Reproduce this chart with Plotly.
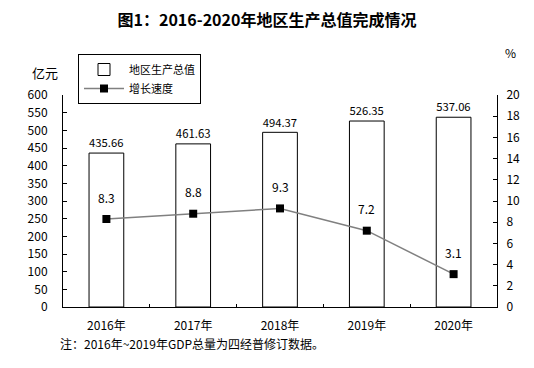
import plotly.graph_objects as go

years = ["2016年", "2017年", "2018年", "2019年", "2020年"]
gdp = [435.66, 461.63, 494.37, 526.35, 537.06]
growth = [8.3, 8.8, 9.3, 7.2, 3.1]

FONT = "Noto Sans CJK SC"

# page has 8px body margin; figure origin is at page (8, 8)
W, H = 526, 360
PL, PT, PR, PB = 55, 87, 489, 299  # plot area in figure pixels
PW, PH = PR - PL, PB - PT


def px(x):
    return (x - 8 - PL) / PW


def py(y):
    return (PB - (y - 8)) / PH


fig = go.Figure()
fig.add_trace(go.Bar(
    x=years, y=gdp, name="地区生产总值",
    marker=dict(color="white", line=dict(color="black", width=1)),
    text=[f"{v:.2f}" for v in gdp], textposition="outside",
    textfont=dict(size=12, color="black", family=FONT),
    cliponaxis=False,
))
fig.add_trace(go.Scatter(
    x=years, y=growth, name="增长速度", yaxis="y2",
    mode="lines+markers",
    line=dict(color="#808080", width=1.5),
    marker=dict(symbol="square", size=8, color="black"),
))
for xv, yv in zip(years, growth):
    fig.add_annotation(x=xv, y=yv, yref="y2", text=f"{yv}", showarrow=False,
                       yshift=22, yanchor="middle",
                       font=dict(size=12, color="black", family=FONT))

fig.add_annotation(xref="paper", yref="paper", x=px(45), y=py(73), text="亿元",
                   xanchor="center", yanchor="middle",
                   showarrow=False, font=dict(size=13, color="black", family=FONT))
fig.add_annotation(xref="paper", yref="paper", x=px(510), y=py(53), text="%",
                   xanchor="center", yanchor="middle",
                   showarrow=False, font=dict(size=12, color="black", family=FONT))
fig.add_annotation(xref="paper", yref="paper", x=px(58), y=py(343), xanchor="left",
                   yanchor="middle",
                   text="注：2016年~2019年GDP总量为四经普修订数据。", showarrow=False,
                   font=dict(size=12, color="black", family=FONT))

fig.update_layout(
    width=W, height=H,
    margin=dict(l=PL, r=W - PR, t=PT, b=H - PB, autoexpand=False),
    paper_bgcolor="white", plot_bgcolor="white",
    font=dict(family=FONT, size=12, color="black"),
    title=dict(text="<b>图1：2016-2020年地区生产总值完成情况</b>", x=(267 - 8) / W,
               xanchor="center", y=1 - (20 - 8) / H, yanchor="middle",
               font=dict(size=16, color="black", family=FONT)),
    bargap=0.6,
    showlegend=True,
    legend=dict(xref="container", yref="container", x=(78 - 8) / W, y=1 - (54 - 8) / H,
                xanchor="left", yanchor="top",
                bgcolor="white", bordercolor="black", borderwidth=1,
                font=dict(size=11, color="black", family=FONT),
                tracegroupgap=0, itemwidth=40),
    xaxis=dict(showline=True, linecolor="black", linewidth=1, ticks="inside", ticklen=3,
               tickson="boundaries", tickcolor="black", showgrid=False,
               ticklabelstandoff=8,
               tickfont=dict(size=12, color="black", family=FONT)),
    yaxis=dict(range=[0, 600], dtick=50, showline=True, linecolor="black", linewidth=1,
               ticks="inside", ticklen=4, tickcolor="black", showgrid=False, zeroline=False,
               ticklabelstandoff=12,
               tickfont=dict(size=12, color="black", family=FONT)),
    yaxis2=dict(range=[0, 20], dtick=2, overlaying="y", side="right", showline=True,
                linecolor="black", linewidth=1, ticks="inside", ticklen=4, tickcolor="black",
                showgrid=False, zeroline=False, ticklabelstandoff=6,
                tickfont=dict(size=12, color="black", family=FONT)),
)

fig.write_html("out.html")
